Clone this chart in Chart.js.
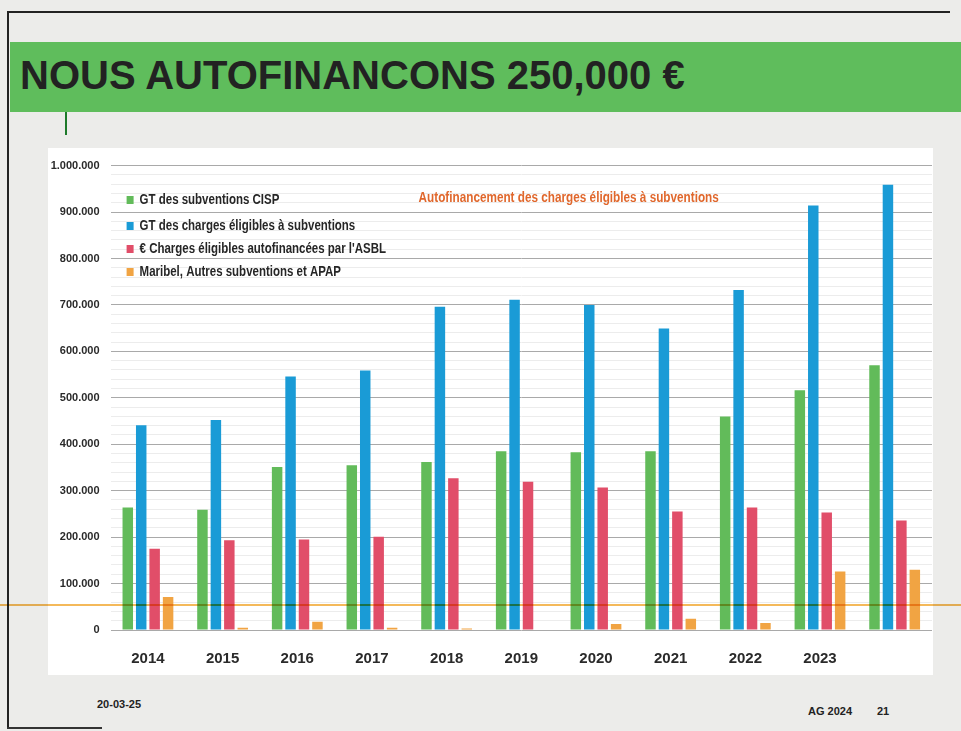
<!DOCTYPE html>
<html>
<head>
<meta charset="utf-8">
<script src="https://cdn.jsdelivr.net/npm/chart.js@4"></script>
<style>
  html, body { margin: 0; padding: 0; }
  body { width: 961px; height: 731px; background: #ececea; position: relative; overflow: hidden; font-family: 'Liberation Sans', Arial, sans-serif; }
  .abs { position: absolute; }
  #banner { left: 10px; top: 42px; width: 951px; height: 70px; background: #5fbd5c; }
  #title { left: 20px; top: 53px; font: bold 40px 'Liberation Sans', Arial, sans-serif; color: #222; white-space: nowrap; }
  #tick { left: 65px; top: 112px; width: 2px; height: 23px; background: #1d7a2a; }
  #panel { left: 48px; top: 148px; width: 885px; height: 527px; background: #fff; }
  #bTop { left: 8px; top: 11px; width: 942px; height: 2px; background: #222; }
  #bLeft { left: 7px; top: 11px; width: 2px; height: 718px; background: #222; }
  #bBot { left: 7px; top: 727px; width: 95px; height: 2px; background: #333; }
  #oline { left: 0; top: 604px; width: 961px; height: 2px; background: #f2ad3c; opacity: 0.85; mix-blend-mode: multiply; }
  .foot { font: bold 11px 'Liberation Sans', Arial, sans-serif; color: #222; white-space: nowrap; }
</style>
</head>
<body>
<div id="bTop" class="abs"></div>
<div id="bLeft" class="abs"></div>
<div id="bBot" class="abs"></div>
<div id="banner" class="abs"></div>
<div id="title" class="abs">NOUS AUTOFINANCONS 250,000 €</div>
<div id="tick" class="abs"></div>
<div id="panel" class="abs"><canvas id="c" width="885" height="527"></canvas></div>
<div id="oline" class="abs"></div>
<div class="abs foot" style="left:97px; top:698px;">20-03-25</div>
<div class="abs foot" style="left:808px; top:705px;">AG 2024</div>
<div class="abs foot" style="left:877px; top:705px;">21</div>
<script>
const categories = ['2014','2015','2016','2017','2018','2019','2020','2021','2022','2023',''];
const subventionsCISP = [264000, 259000, 351000, 355000, 362000, 385000, 383000, 385000, 460000, 516000, 570000];
const chargesEligibles = [441000, 452000, 546000, 559000, 696000, 711000, 700000, 649000, 732000, 914000, 959000];
const chargesAutofinancees = [175000, 193000, 195000, 201000, 327000, 319000, 307000, 255000, 264000, 253000, 236000];
const maribelAutres = [71000, 5000, 18000, 5000, 3000, 0, 13000, 24000, 15000, 126000, 130000];
const seriesLabels = ['GT des subventions CISP', 'GT des charges éligibles à subventions', "€ Charges éligibles autofinancées par l'ASBL", 'Maribel, Autres subventions et APAP'];
const seriesColors = ['#62bb5a', '#1a9bd6', '#e14e69', '#f1a443'];
const chartTitle = 'Autofinancement des charges éligibles à subventions';

const sans = "'Liberation Sans', Arial, sans-serif";

function narrowText(ctx, text, x, y, squeeze) {
  ctx.save();
  ctx.translate(x, y);
  ctx.scale(squeeze, 1);
  ctx.fillText(text, 0, 0);
  ctx.restore();
}

const overlayPlugin = {
  id: 'overlay',
  afterDraw(chart) {
    const ctx = chart.ctx;
    const ca = chart.chartArea;
    ctx.save();
    ctx.textBaseline = 'middle';
    ctx.textAlign = 'left';
    ctx.font = 'bold 14px ' + sans;
    const rows = [52, 78, 101, 124];
    chart.data.datasets.forEach((ds, i) => {
      const y = rows[i];
      ctx.fillStyle = ds.backgroundColor;
      ctx.fillRect(ca.left + 16, y - 4, 7, 8);
      ctx.fillStyle = '#262626';
      narrowText(ctx, ds.label, ca.left + 29, y, 0.82);
    });
    ctx.fillStyle = '#e0672c';
    ctx.font = 'bold 14.5px ' + sans;
    narrowText(ctx, chartTitle, ca.left + 308, 50, 0.81);
    ctx.restore();
  }
};

new Chart(document.getElementById('c'), {
  type: 'bar',
  data: {
    labels: categories,
    datasets: [
      { label: seriesLabels[0], data: subventionsCISP, backgroundColor: seriesColors[0] },
      { label: seriesLabels[1], data: chargesEligibles, backgroundColor: seriesColors[1] },
      { label: seriesLabels[2], data: chargesAutofinancees, backgroundColor: seriesColors[2] },
      { label: seriesLabels[3], data: maribelAutres, backgroundColor: seriesColors[3] }
    ]
  },
  options: {
    responsive: false,
    animation: false,
    devicePixelRatio: 1,
    layout: { padding: { top: 14, right: 1, left: 0, bottom: 0 } },
    datasets: { bar: { categoryPercentage: 0.72, barPercentage: 0.78 } },
    plugins: { legend: { display: false }, title: { display: false }, tooltip: { enabled: false } },
    scales: {
      x: {
        grid: { display: false, drawTicks: false },
        border: { display: false },
        ticks: { color: '#2a2a2a', font: { family: sans, size: 15, weight: 'bold' }, padding: 20, maxRotation: 0, autoSkip: false },
        afterFit: (s) => { s.height = 45; }
      },
      y: {
        min: 0, max: 1000000,
        border: { display: false },
        grid: {
          drawTicks: false,
          color: (c) => (c.tick && c.tick.value % 100000 === 0) ? '#a9a9a9' : '#ececec',
          lineWidth: 1
        },
        ticks: {
          stepSize: 20000,
          autoSkip: false,
          padding: 11,
          color: '#2a2a2a',
          font: { family: sans, size: 11, weight: 'bold' },
          callback: (v) => (v % 100000 === 0) ? (v === 0 ? '0' : v.toLocaleString('de-DE')) : ''
        },
        afterFit: (s) => { s.width = 62.6; }
      }
    }
  },
  plugins: [overlayPlugin]
});
</script>
</body>
</html>
